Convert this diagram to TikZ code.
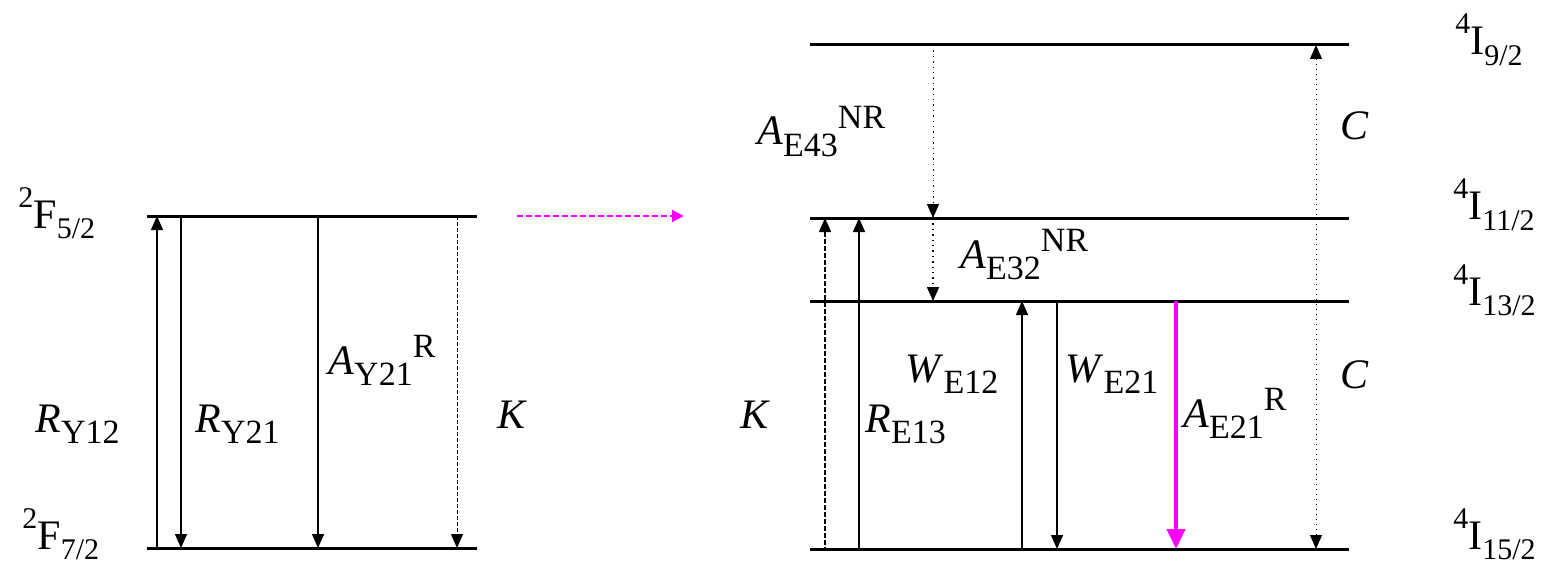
\documentclass[tikz,border=0pt]{standalone}
\usepackage{fontspec}
\setmainfont{Liberation Serif}
\usepackage{xcolor}
\definecolor{lvmagenta}{RGB}{255,0,255}
\usetikzlibrary{arrows.meta,positioning}
\newcommand{\subsz}{\fontsize{17}{17}\selectfont}
\newcommand{\termsz}{\fontsize{15}{15}\selectfont}
% rate label: italic symbol, lowered index, raised mark
\newcommand{\rate}[3]{\textit{#1}\raisebox{-0.28em}{\subsz #2}\raisebox{0.4em}{\subsz #3}}
% term label: raised multiplicity, letter, lowered J
\newcommand{\term}[3]{\raisebox{0.5em}{\termsz #1}#2\raisebox{-0.25em}{\termsz #3}}
\tikzset{
  lvl/.style={line width=1.5pt},
  up/.style={{Triangle[width=6pt,length=7pt]}-,line width=0.7pt},
  dn/.style={-{Triangle[width=6pt,length=7pt]},line width=0.7pt},
  lbl/.style={anchor=base west,inner sep=0pt,font=\fontsize{21}{21}\selectfont}
}
\begin{document}
\begin{tikzpicture}[x=0.5pt,y=-0.5pt]
  \useasboundingbox (0,0) rectangle (1542,567);
  % ytterbium levels
  \coordinate (F52w) at (147,216); \coordinate (F52e) at (477,216);
  \coordinate (F72w) at (147,548); \coordinate (F72e) at (477,548);
  \draw[lvl] (F52w) -- (F52e);
  \draw[lvl] (F72w) -- (F72e);
  % erbium levels
  \coordinate (I92w) at (810,45);   \coordinate (I92e) at (1349,45);
  \coordinate (I112w) at (810,218); \coordinate (I112e) at (1349,218);
  \coordinate (I132w) at (810,301); \coordinate (I132e) at (1349,301);
  \coordinate (I152w) at (810,549); \coordinate (I152e) at (1349,549);
  \foreach \l in {I92,I112,I132,I152} \draw[lvl] (\l w) -- (\l e);

  % Yb transitions
  \draw[up] (157,0 |- F52w) -- (157,0 |- F72w);
  \draw[dn] (181,0 |- F52w) -- (181,0 |- F72w);
  \draw[dn] (318,0 |- F52w) -- (318,0 |- F72w);
  \draw[dn,dash pattern=on 2pt off 1pt,line width=0.5pt] (457,0 |- F52w) -- (457,0 |- F72w);
  % transfer
  \draw[-{Triangle[width=6pt,length=6pt]},lvmagenta,line width=1pt,dash pattern=on 3pt off 1.5pt] (517,216) -- (684,216);

  % Er transitions
  \draw[up,dash pattern=on 2.5pt off 1pt] (825,0 |- I112w) -- (825,0 |- I152w);
  \draw[up] (859,0 |- I112w) -- (859,0 |- I152w);
  \draw[dn,dotted,line width=0.5pt] (933,0 |- I92w) -- (933,0 |- I112w);
  \draw[dn,dotted,line width=0.8pt] (933,0 |- I112w) -- (933,0 |- I132w);
  \draw[up] (1022,0 |- I132w) -- (1022,0 |- I152w);
  \draw[dn] (1057,0 |- I132w) -- (1057,0 |- I152w);
  \draw[-{Triangle[width=9pt,length=10pt]},lvmagenta,line width=2pt] (1176,0 |- I132w) -- (1176,0 |- I152w);
  \draw[{Triangle[width=6pt,length=7pt]}-{Triangle[width=6pt,length=7pt]},dotted,line width=0.5pt] (1316,0 |- I92w) -- (1316,0 |- I152w);

  % level names
  \node[lbl] (tF52) at (18,228) {\term{2}{F}{5/2}};
  \node[lbl] (tF72) at (22,549) {\term{2}{F}{7/2}};
  \node[lbl] (tI92) at (1455,55) {\term{4}{I}{9/2}};
  \node[lbl] (tI112) at (1453,220) {\term{4}{I}{11/2}};
  \node[lbl] (tI132) at (1453,305) {\term{4}{I}{13/2}};
  \node[lbl] (tI152) at (1453,549) {\term{4}{I}{15/2}};

  % rate names
  \node[lbl] (rY12) at (35,432) {\rate{R}{Y12}{}};
  \node[lbl] (rY21) at (195,432) {\rate{R}{Y21}{}};
  \node[lbl] (aY21) at (328,374) {\rate{A}{Y21}{R}};
  \node[lbl] (kY) at (497,428) {\textit{K}};
  \node[lbl] (kE) at (740,428) {\textit{K}};
  \node[lbl] (rE13) at (865,432) {\rate{R}{E13}{}};
  \node[lbl] (wE12) at (905,382) {\rate{W}{E12}{}};
  \node[lbl] (wE21) at (1065,382) {\rate{W}{E21}{}};
  \node[lbl] (aE21) at (1183,427) {\rate{A}{E21}{R}};
  \node[lbl] (aE43) at (757,145) {\rate{A}{E43}{NR}};
  \node[lbl] (aE32) at (960,268) {\rate{A}{E32}{NR}};
  \node[lbl] (cTop) at (1340,140) {\textit{C}};
  \node[lbl] (cBot) at (1340,388) {\textit{C}};
\end{tikzpicture}
\end{document}
